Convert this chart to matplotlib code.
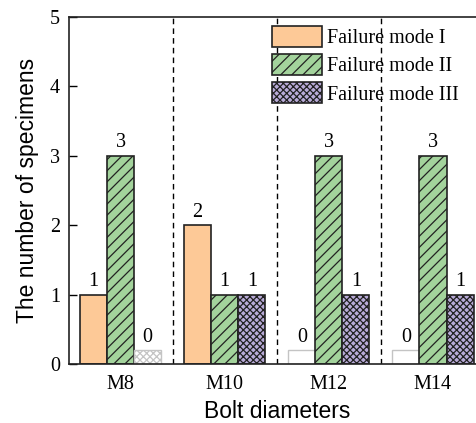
import matplotlib.pyplot as plt
import numpy as np
from matplotlib.patches import Patch

diameters = ["M8", "M10", "M12", "M14"]
mode_i = [1, 2, 0, 0]
mode_ii = [3, 1, 3, 3]
mode_iii = [0, 1, 1, 1]
labels = ["Failure mode I", "Failure mode II", "Failure mode III"]

COLORS = ["#fdc997", "#a3d39c", "#b9abd8"]
HATCHES = ["", "///", "xxxxx"]
ZERO_STUB = 0.2
WIDTH = 0.26
SERIF = "Liberation Serif"
SANS = "Liberation Sans"

plt.rcParams.update({"hatch.linewidth": 0.9, "font.family": SERIF})

fig = plt.figure(figsize=(4.76, 4.23), dpi=100)
ax = fig.add_axes([0.144, 0.1395, 0.875, 0.8205])

x = np.arange(len(diameters))
for k, values in enumerate([mode_i, mode_ii, mode_iii]):
    pos = x + (k - 1) * WIDTH
    for xi, v in zip(pos, values):
        if v == 0:
            ax.bar(xi, ZERO_STUB, WIDTH, facecolor="white", edgecolor="#c4c4c4",
                   hatch=HATCHES[k], linewidth=1.0)
            top = ZERO_STUB
        else:
            ax.bar(xi, v, WIDTH, facecolor=COLORS[k], edgecolor="#222222",
                   hatch=HATCHES[k], linewidth=1.2)
            top = v
        ax.text(xi, top + 0.05, str(v), ha="center", va="bottom", fontsize=14.5)

for b in x[:-1] + 0.5:
    ax.axvline(b, color="black", linestyle=(0, (4, 3)), linewidth=1.0)

ax.set_xlim(-0.5, 3.5)
ax.set_ylim(0, 5)
ax.set_xticks(x)
ax.set_xticklabels(diameters, fontsize=14.5)
ax.tick_params(axis="x", length=0, pad=8)
ax.set_yticks(range(6))
ax.tick_params(axis="y", direction="in", length=6, width=1.0, labelsize=14.5, pad=6)
for s in ax.spines.values():
    s.set_linewidth(1.2)
    s.set_color("#222222")

ax.set_xlabel("Bolt diameters", fontsize=16.5, family=SANS, labelpad=4)
ax.set_ylabel("The number of specimens", fontsize=16.5, family=SANS, labelpad=8)

handles = [Patch(facecolor=c, edgecolor="#222222", hatch=h, linewidth=1.2)
           for c, h in zip(COLORS, HATCHES)]
ax.legend(handles, labels, loc="upper left", bbox_to_anchor=(272 / 476, 1 - 26 / 423),
          bbox_transform=fig.transFigure, frameon=False, fontsize=14.5,
          handlelength=2.5, handleheight=1.25, handletextpad=0.25,
          labelspacing=0.28, borderpad=0, borderaxespad=0)

fig.savefig("out.png", dpi=100)
